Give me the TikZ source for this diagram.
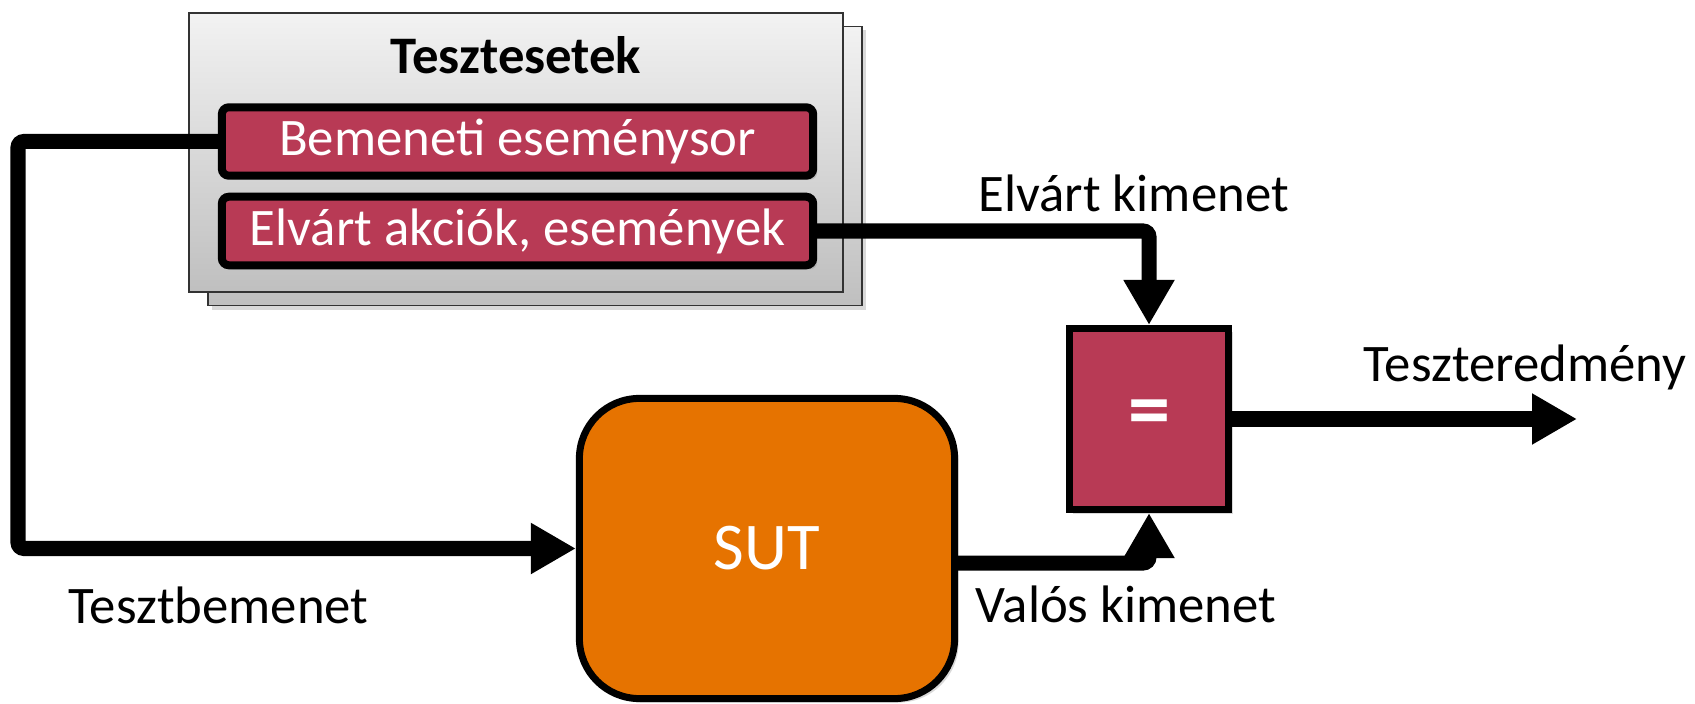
\documentclass[tikz,border=0pt]{standalone}
\usepackage{fontspec}
\setmainfont{Carlito}
\usetikzlibrary{arrows.meta,positioning,shadows}
\definecolor{caseRed}{RGB}{184,58,85}
\definecolor{sutOrange}{RGB}{230,115,0}
\tikzset{
  txt/.style={font=\fontsize{15}{18}\selectfont},
  title/.style={font=\fontsize{15}{18}\selectfont\bfseries, anchor=base, inner sep=0pt},
  casebox/.style={rectangle, draw=black!80, line width=0.5pt, top color=gray!10, bottom color=gray!50, minimum width=6.54cm, minimum height=2.79cm},
  redbox/.style={rectangle, draw, line width=0.08cm, rounded corners=2pt, fill=caseRed, text=white, txt, minimum width=5.91cm, minimum height=0.67cm},
  sutbox/.style={rectangle, draw, line width=0.07cm, rounded corners=0.6cm, fill=sutOrange, text=white, font=\fontsize{19}{22}\selectfont, minimum width=3.75cm, minimum height=3cm},
  cmpbox/.style={rectangle, draw, line width=0.07cm, fill=caseRed, text=white, font=\fontsize{24}{28}\selectfont\bfseries, minimum width=1.59cm, minimum height=1.81cm},
  lbl/.style={txt, anchor=base west, inner sep=0pt},
  dshadow/.style={drop shadow={shadow xshift=0.04cm, shadow yshift=-0.04cm, opacity=0.3}},
  wire/.style={line width=0.15cm, rounded corners=0.06cm},
  arr/.style={wire, -{Triangle[length=0.45cm, width=0.48cm]}}
}
\begin{document}
\begin{tikzpicture}[x=0.01cm, y=-0.01cm]
\useasboundingbox (0,0) rectangle (1695,704);

% stack of test cases
\node[casebox, dshadow] (back) at (535,166) {};
\node[casebox] (cases) at (516,152.5) {};
\node[title] (casetitle) at (516,74) {Tesztesetek};
\node[redbox, dshadow] (inseq) at (517.5,141.5) {Bemeneti eseménysor};
\node[redbox, dshadow, below=0.13cm of inseq] (expseq) {Elvárt akciók, események};

\node[sutbox, dshadow] (sut) at (767,548.5) {SUT};
\node[cmpbox, dshadow] (cmp) at (1149,419) {=};

\node[lbl] (inlbl) at (68,623) {Tesztbemenet};
\node[lbl] (reallbl) at (975,622) {Valós kimenet};
\node[lbl] (explbl) at (978,212) {Elvárt kimenet};
\node[lbl] (reslbl) at (1363,382) {Teszteredmény};

\coordinate (bend) at (18,142);
\coordinate (res) at (1577,419);

\draw[arr] (inseq.west) -- (inseq.west -| bend) |- (sut.west);
\draw[arr] (expseq.east) -| (cmp.north);
\draw[arr] ([yshift=-0.145cm]sut.east) -| (cmp.south);
\draw[arr] (cmp.east) -- (res);
\end{tikzpicture}
\end{document}
